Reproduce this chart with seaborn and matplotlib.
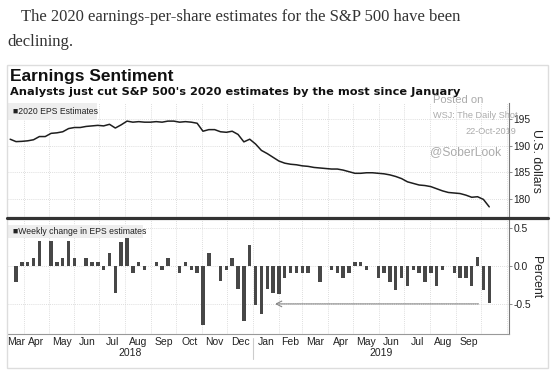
import matplotlib
matplotlib.use("Agg")
import matplotlib.pyplot as plt
import matplotlib.dates as mdates
from matplotlib.patches import Rectangle
from matplotlib.lines import Line2D
import numpy as np
import pandas as pd
import seaborn as sns

# ---------------- data ----------------
line_start = "2018-03-16"
eps_2020 = [191.2, 190.75, 190.8, 190.9, 191.1, 191.7, 191.7, 192.3, 192.4, 192.6,
            193.2, 193.4, 193.4, 193.6, 193.7, 193.8, 193.7, 194.0, 193.3, 193.9,
            194.6, 194.4, 194.5, 194.4, 194.4, 194.5, 194.4, 194.6, 194.6, 194.4,
            194.5, 194.4, 194.2, 192.7, 193.0, 193.0, 192.6, 192.5, 192.7, 192.1,
            190.7, 191.2, 190.3, 189.1, 188.5, 187.8, 187.1, 186.7, 186.5, 186.4,
            186.2, 186.1, 185.9, 185.8, 185.7, 185.6, 185.6, 185.4, 185.1, 184.8,
            184.8, 184.9, 184.9, 184.8, 184.7, 184.5, 184.2, 183.8, 183.2, 182.9,
            182.6, 182.5, 182.3, 181.9, 181.5, 181.2, 181.1, 181.0, 180.7, 180.3,
            180.4, 179.9, 178.5]

bar_start = "2018-03-23"
weekly_change = [-0.21, 0.05, 0.05, 0.10, 0.32, 0.0, 0.32, 0.05, 0.10, 0.32,
                 0.10, 0.0, 0.10, 0.05, 0.05, -0.05, 0.16, -0.36, 0.31, 0.37,
                 -0.10, 0.05, -0.05, 0.0, 0.05, -0.05, 0.10, 0.0, -0.10, 0.05,
                 -0.05, -0.10, -0.77, 0.16, 0.0, -0.20, -0.05, 0.10, -0.31, -0.72,
                 0.27, -0.51, -0.63, -0.31, -0.36, -0.37, -0.16, -0.10, -0.10, -0.10,
                 -0.10, 0.0, -0.21, 0.0, -0.06, -0.10, -0.16, -0.10, 0.05, 0.05,
                 -0.05, 0.0, -0.16, -0.10, -0.21, -0.32, -0.16, -0.27, -0.05, -0.10,
                 -0.21, -0.10, -0.27, -0.05, 0.0, -0.10, -0.16, -0.16, -0.27, 0.11,
                 -0.32, -0.49]

top_ticks = [180, 185, 190, 195]
bottom_ticks = [-0.5, 0.0, 0.5]
bottom_ticklabels = ["-0.5", "0.0", "0.5"]
month_names = ["Jan", "Feb", "Mar", "Apr", "May", "Jun", "Jul", "Aug", "Sep",
               "Oct", "Nov", "Dec"]
arrow_from = "2019-09-28"
arrow_to = "2019-01-27"
arrow_level = -0.5

line_dates = pd.date_range(line_start, periods=len(eps_2020), freq="7D")
bar_dates = pd.date_range(bar_start, periods=len(weekly_change), freq="7D")
df_line = pd.DataFrame({"x": mdates.date2num(line_dates), "eps": eps_2020})
df_bar = pd.DataFrame({"x": mdates.date2num(bar_dates), "chg": weekly_change})

# ---------------- style ----------------
sns.set_style("white")
plt.rcParams["font.family"] = ["Liberation Sans", "DejaVu Sans"]
plt.rcParams["axes.unicode_minus"] = False

W, H = 555, 375
fig = plt.figure(figsize=(W / 100, H / 100), dpi=100)
fig.patch.set_facecolor("white")

def fy(py):
    return 1 - py / H

ax_l, ax_w = 8, 500.7
top_b, top_h = 217.5, 114.5
bot_b, bot_h = 334.0, 115.5
ax1 = fig.add_axes([ax_l / W, fy(top_b), ax_w / W, top_h / H])
ax2 = fig.add_axes([ax_l / W, fy(bot_b), ax_w / W, bot_h / H])

LINE_C = "#1e1e1e"
BAR_C = "#474747"
GRID_C = "#d4d4d4"

sns.lineplot(data=df_line, x="x", y="eps", ax=ax1, color=LINE_C, linewidth=1.1)
sns.barplot(data=df_bar, x="x", y="chg", ax=ax2, native_scale=True, color=BAR_C,
            saturation=1, width=0.58, errorbar=None, linewidth=0)

x0 = df_bar["x"].iloc[0] - 9.6
x1 = df_bar["x"].iloc[-1] + 23.3
for ax in (ax1, ax2):
    ax.set_xlim(x0, x1)
ax1.set_ylim(176.5, 198.0)
ax2.set_ylim(-0.894, 0.618)

# month boundaries and labels
bounds = pd.date_range("2018-03-01", "2019-11-01", freq="MS")
bnum = mdates.date2num(bounds)
inside = [b for b in bnum if x0 < b < x1]
label_pos, label_txt = [], []
for i in range(len(bounds) - 1):
    lo, hi = max(bnum[i], x0), min(bnum[i + 1], x1)
    d = bounds[i]
    if hi - lo > 12 and not (d.year == 2019 and d.month == 10):
        label_pos.append((lo + hi) / 2)
        label_txt.append(month_names[d.month - 1])

for ax in (ax1, ax2):
    for b in inside:
        ax.axvline(b, color=GRID_C, lw=0.6, ls=(0, (1, 1.5)), zorder=0)
    for s in ("left", "top"):
        ax.spines[s].set_visible(False)
    ax.spines["right"].set_color("#7a7a7a")
    ax.spines["right"].set_linewidth(0.8)
    ax.yaxis.tick_right()
    ax.tick_params(axis="y", direction="out", length=2.5, width=0.6, color="#7a7a7a",
                   pad=1, labelcolor="#222222")
    ax.set_xlabel("")

for t in top_ticks:
    ax1.axhline(t, color=GRID_C, lw=0.6, ls=(0, (1, 1.5)), zorder=0)
for t in bottom_ticks:
    ax2.axhline(t, color=GRID_C, lw=0.6, ls=(0, (1, 1.5)), zorder=0)

ax1.set_yticks(top_ticks)
ax1.set_yticklabels([str(t) for t in top_ticks], family="Liberation Sans", fontsize=7.4)
ax1.set_xticks([])
ax1.spines["bottom"].set_visible(False)
ax1.set_ylabel("U.S. dollars", rotation=270, fontsize=8.8, color="#222222",
               va="center", ha="center")
ax1.yaxis.set_label_position("right")
ax1.yaxis.set_label_coords((542 - ax_l) / ax_w, (top_b - 161) / top_h)

ax2.set_yticks(bottom_ticks)
ax2.set_yticklabels(bottom_ticklabels, family="Liberation Sans", fontsize=7.4)
ax2.spines["bottom"].set_color("#999999")
ax2.spines["bottom"].set_linewidth(0.8)
ax2.set_xticks(inside)
ax2.set_xticklabels([])
ax2.tick_params(axis="x", which="major", direction="out", length=2.5, width=0.6,
                color="#999999")
ax2.set_xticks(label_pos, minor=True)
ax2.set_xticklabels(label_txt, minor=True, fontsize=7.5, color="#222222")
ax2.tick_params(axis="x", which="minor", length=0, pad=2.5)
ax2.set_ylabel("Percent", rotation=270, fontsize=8.8, color="#222222",
               va="center", ha="center")
ax2.yaxis.set_label_position("right")
ax2.yaxis.set_label_coords((542 - ax_l) / ax_w, (bot_b - 277) / bot_h)

# year labels and divider
for yr in (2018, 2019):
    lo = max(mdates.date2num(pd.Timestamp(f"{yr}-01-01")), x0)
    hi = min(mdates.date2num(pd.Timestamp(f"{yr + 1}-01-01")), x1)
    ax2.text((lo + hi) / 2, -(353 - bot_b) / bot_h, str(yr), fontsize=7.5,
             ha="center", va="center", color="#222222",
             transform=ax2.get_xaxis_transform())
jan19 = mdates.date2num(pd.Timestamp("2019-01-01"))
ax2.plot([jan19, jan19], [-(338 - bot_b) / bot_h, -(359 - bot_b) / bot_h],
         color="#cccccc", lw=0.8, transform=ax2.get_xaxis_transform(), clip_on=False)

# dotted arrow
ax2.annotate("", xy=(mdates.date2num(pd.Timestamp(arrow_to)), arrow_level),
             xytext=(mdates.date2num(pd.Timestamp(arrow_from)), arrow_level),
             arrowprops=dict(arrowstyle="->", color="#8a8a8a", lw=0.9,
                             linestyle=(0, (1, 0.8)), shrinkA=0, shrinkB=0))

# legend boxes
def legend_box(ax, b, h, x_left, x_right, y_top, y_bot, text):
    r = Rectangle(((x_left - ax_l) / ax_w, (b - y_bot) / h),
                  (x_right - x_left) / ax_w, (y_bot - y_top) / h,
                  transform=ax.transAxes, facecolor="#eeeeee", edgecolor="none",
                  zorder=5, clip_on=False)
    ax.add_patch(r)
    ax.text((x_left + 6 - ax_l) / ax_w, (b - (y_top + y_bot) / 2) / h, text,
            transform=ax.transAxes, fontsize=6.2, va="center", ha="left",
            color="#222222", zorder=6, family=["Liberation Sans", "DejaVu Sans"])

legend_box(ax1, top_b, top_h, 7, 97, 103, 120, "■2020 EPS Estimates")
legend_box(ax2, bot_b, bot_h, 7, 143, 224.5, 237.5, "■Weekly change in EPS estimates")

# separator & frame
fig.add_artist(Line2D([7 / W, 548 / W], [fy(218), fy(218)], lw=2.3, color="#333333"))
fig.add_artist(Rectangle((7 / W, fy(368)), 541 / W, 303 / H, fill=False,
                         edgecolor="#dddddd", lw=1.0, transform=fig.transFigure))

# texts
fig.text(21 / W, fy(17), "The 2020 earnings-per-share estimates for the S&P 500 have been",
         fontsize=12, family="Liberation Serif", color="#333333", va="center")
fig.text(7 / W, fy(42), "declining.", fontsize=12, family="Liberation Serif",
         color="#333333", va="center")
fig.text(10 / W, fy(76), "Earnings Sentiment", fontsize=12.5, weight="bold",
         family="Liberation Sans", va="center", color="#111111")
fig.text(10 / W, fy(92), "Analysts just cut S&P 500's 2020 estimates by the most since January",
         fontsize=8.2, weight="bold", family="DejaVu Sans", va="center", color="#111111")

WM = "#ababab"
fig.text(433 / W, fy(100), "Posted on", fontsize=8, color=WM, va="center")
fig.text(433 / W, fy(116), "WSJ: The Daily Shot", fontsize=6.6, color=WM, va="center")
fig.text(465 / W, fy(132), "22-Oct-2019", fontsize=6.6, color=WM, va="center")
fig.text(430 / W, fy(152), "@SoberLook", fontsize=8.7, color=WM, va="center")

fig.savefig("out.png", dpi=100, facecolor="white")
